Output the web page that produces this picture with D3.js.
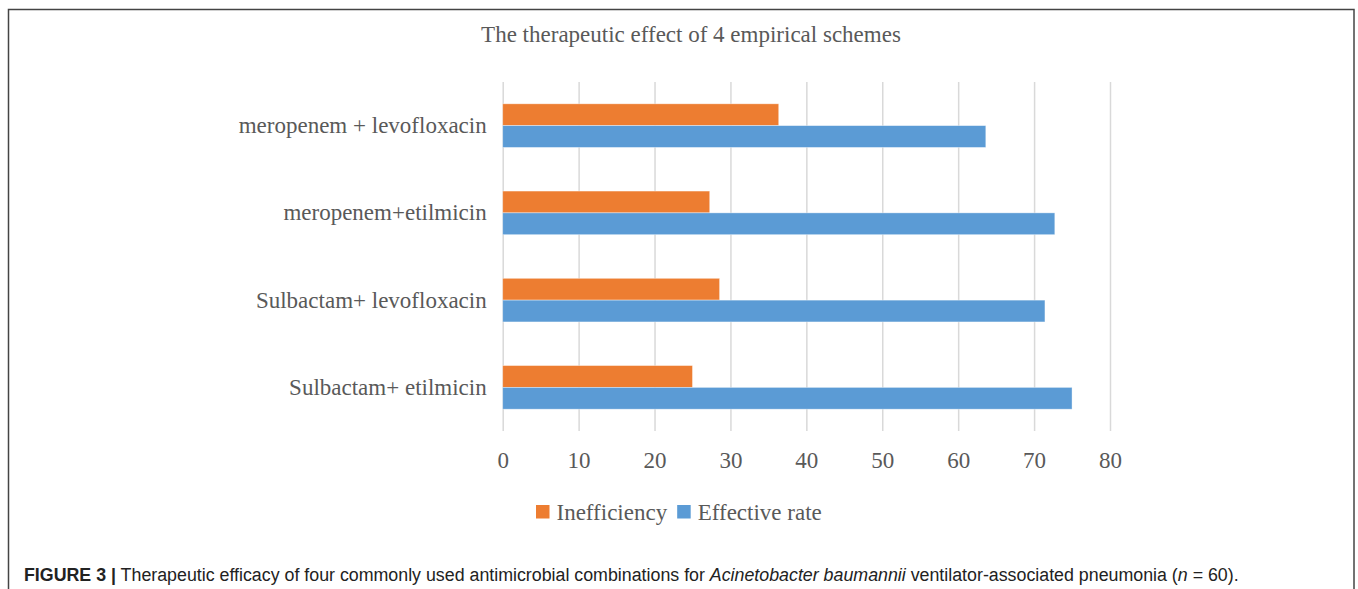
<!DOCTYPE html>
<html>
<head>
<meta charset="utf-8">
<script src="https://cdn.jsdelivr.net/npm/d3@7"></script>
<style>
  html, body { margin: 0; padding: 0; background: #fff; }
  svg { display: block; }
</style>
</head>
<body>
<div id="chart"></div>
<script>
const categories = [
  "meropenem + levofloxacin",
  "meropenem+etilmicin",
  "Sulbactam+ levofloxacin",
  "Sulbactam+ etilmicin",
];
const seriesNames = ["Inefficiency", "Effective rate"];
const inefficiency = [36.36, 27.27, 28.57, 25];
const effectiveRate = [63.64, 72.73, 71.43, 75];
const xTicks = [0, 10, 20, 30, 40, 50, 60, 70, 80];

const width = 1358;
const height = 589;
const ORANGE = "#ED7D31";
const BLUE = "#5B9BD5";
const TEXT_GRAY = "#595959";
const SERIF = "'Liberation Serif', 'Times New Roman', serif";
const SANS = "'Liberation Sans', Arial, Helvetica, sans-serif";
const FONT_SIZE = 23;

const plot = { left: 502.7, right: 1110, top: 82, bottom: 431 };

const svg = d3
  .select("#chart")
  .append("svg")
  .attr("width", width)
  .attr("height", height);

// outer frame (open at the bottom, runs off the page)
svg
  .append("rect")
  .attr("x", 8.5)
  .attr("y", 9.5)
  .attr("width", 1345.5)
  .attr("height", 620)
  .attr("fill", "none")
  .attr("stroke", "#444")
  .attr("stroke-width", 1.5);

const x = d3.scaleLinear().domain([0, 80]).range([plot.left, plot.right]);
const y = d3
  .scaleBand()
  .domain(categories)
  .range([plot.top, plot.bottom])
  .paddingInner(0.5)
  .paddingOuter(0.25);
const ySub = d3
  .scaleBand()
  .domain(seriesNames)
  .range([0, y.bandwidth()]);
const color = d3.scaleOrdinal().domain(seriesNames).range([ORANGE, BLUE]);

// title
svg
  .append("text")
  .attr("x", 691)
  .attr("y", 42)
  .attr("text-anchor", "middle")
  .attr("font-family", SERIF)
  .attr("font-size", FONT_SIZE)
  .attr("fill", TEXT_GRAY)
  .text("The therapeutic effect of 4 empirical schemes");

// gridlines + tick labels
const xAxis = svg
  .append("g")
  .attr("transform", `translate(0,${plot.bottom})`)
  .call(
    d3
      .axisBottom(x)
      .tickValues(xTicks)
      .tickSize(-(plot.bottom - plot.top))
      .tickPadding(21)
  );
xAxis.select(".domain").remove();
xAxis
  .selectAll(".tick line")
  .attr("stroke", "#d9d9d9")
  .attr("stroke-width", 1.5);
xAxis
  .selectAll(".tick text")
  .attr("font-family", SERIF)
  .attr("font-size", FONT_SIZE)
  .attr("fill", TEXT_GRAY);

// category labels
const yAxis = svg
  .append("g")
  .attr("transform", `translate(${plot.left},0)`)
  .call(d3.axisLeft(y).tickSize(0).tickPadding(16));
yAxis.select(".domain").remove();
yAxis
  .selectAll(".tick text")
  .attr("font-family", SERIF)
  .attr("font-size", FONT_SIZE)
  .attr("fill", TEXT_GRAY);

// bars
const rows = categories.map((c, i) => ({
  category: c,
  values: [
    { series: seriesNames[0], value: inefficiency[i] },
    { series: seriesNames[1], value: effectiveRate[i] },
  ],
}));

svg
  .append("g")
  .selectAll("g")
  .data(rows)
  .enter()
  .append("g")
  .attr("transform", (d) => `translate(0,${y(d.category)})`)
  .selectAll("rect")
  .data((d) => d.values)
  .enter()
  .append("rect")
  .attr("x", x(0))
  .attr("y", (d) => ySub(d.series))
  .attr("width", (d) => x(d.value) - x(0))
  .attr("height", ySub.bandwidth())
  .attr("fill", (d) => color(d.series))
  .attr("stroke", "#fff")
  .attr("stroke-opacity", 0.5)
  .attr("stroke-width", 0.75);

// legend
const legend = svg.append("g").attr("transform", "translate(0,520)");
let lx = 536;
seriesNames.forEach((name) => {
  legend
    .append("rect")
    .attr("x", lx)
    .attr("y", -15)
    .attr("width", 13.5)
    .attr("height", 13.5)
    .attr("fill", color(name));
  const t = legend
    .append("text")
    .attr("x", lx + 20.5)
    .attr("y", 0)
    .attr("font-family", SERIF)
    .attr("font-size", FONT_SIZE)
    .attr("fill", TEXT_GRAY)
    .text(name);
  lx += 20.5 + t.node().getComputedTextLength() + 10;
});

// caption, font size fitted so it spans the same width as in the figure
const caption = svg
  .append("text")
  .attr("x", 24)
  .attr("y", 581)
  .attr("font-family", SANS)
  .attr("font-size", 18)
  .attr("fill", "#222");
caption.append("tspan").attr("font-weight", "bold").text("FIGURE 3 |");
caption
  .append("tspan")
  .text(
    " Therapeutic efficacy of four commonly used antimicrobial combinations for "
  );
caption.append("tspan").attr("font-style", "italic").text("Acinetobacter baumannii");
caption.append("tspan").text(" ventilator-associated pneumonia (");
caption.append("tspan").attr("font-style", "italic").text("n");
caption.append("tspan").text(" = 60).");
const captionLen = caption.node().getComputedTextLength();
caption.attr("font-size", (18 * 1215) / captionLen);
</script>
</body>
</html>
